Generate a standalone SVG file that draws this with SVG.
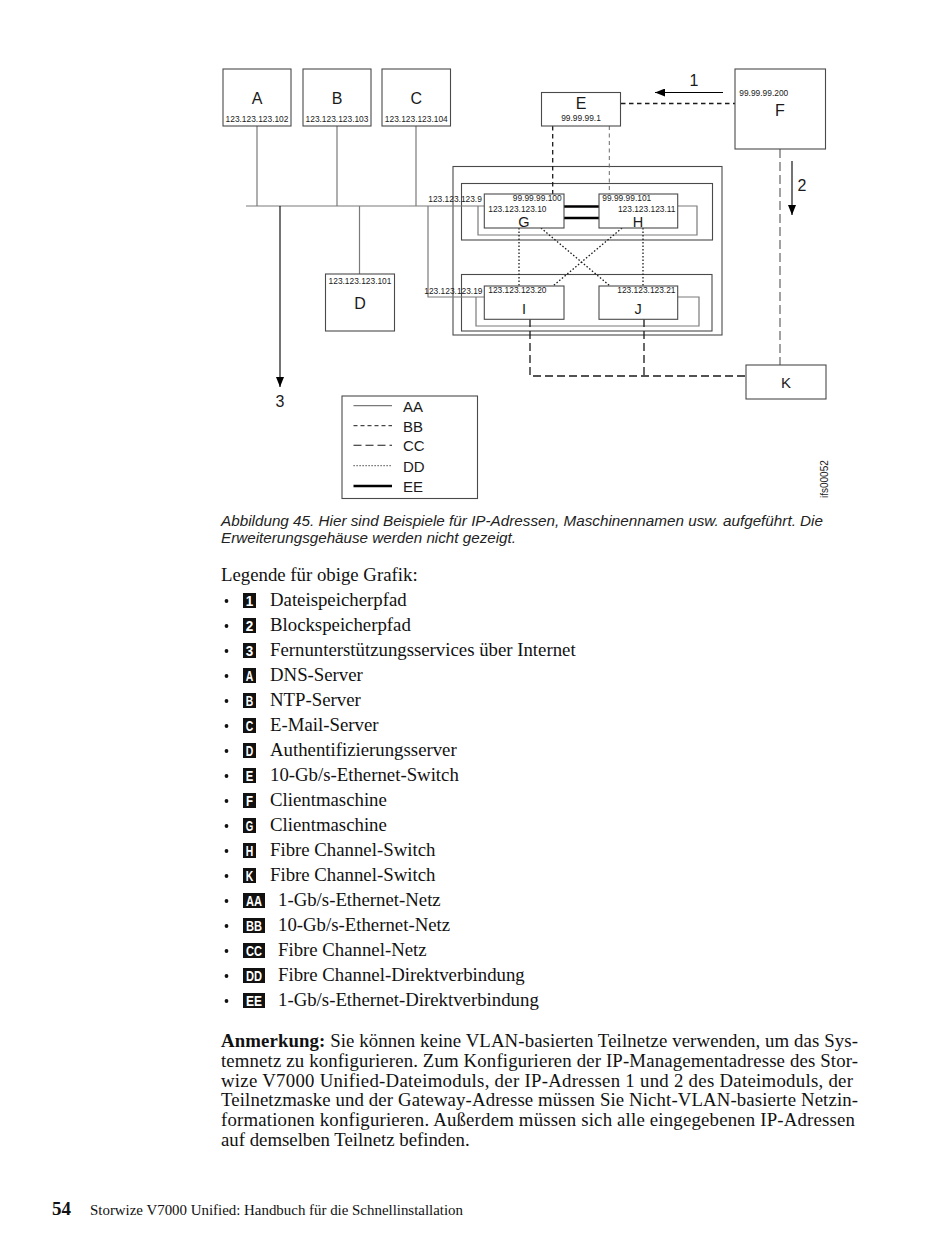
<svg xmlns="http://www.w3.org/2000/svg" width="950" height="1260" viewBox="0 0 950 1260">
<style>
.box{fill:#fff;stroke:#4a4a4a;stroke-width:1.1}
.frame{fill:none;stroke:#4a4a4a;stroke-width:1.1}
.aa{fill:none;stroke:#7a7a7a;stroke-width:1.2}
.bb{fill:none;stroke:#1a1a1a;stroke-width:1.3;stroke-dasharray:4.5 3.5}
.bbl{fill:none;stroke:#6a6a6a;stroke-width:1;stroke-dasharray:4 3.5}
.cc{fill:none;stroke:#1a1a1a;stroke-width:1.3;stroke-dasharray:8 4}
.ccl{fill:none;stroke:#8a8a8a;stroke-width:1.6;stroke-dasharray:9 4}
.dd{fill:none;stroke:#1a1a1a;stroke-width:1.3;stroke-dasharray:1.5 2}
.ee{fill:none;stroke:#000;stroke-width:2.5}
.arr{fill:none;stroke:#000;stroke-width:1.1}
.lbl{font-family:"Liberation Sans",Arial,sans-serif;fill:#1a1a1a}
.ip{font-size:8.4px}
.big{font-size:16px}
.mid{text-anchor:middle}
.end{text-anchor:end}
.serif{font-family:"Liberation Serif","Times New Roman",serif;fill:#111;font-size:18.8px}
.badge{fill:#111}
.bt{font-family:"Liberation Sans",Arial,sans-serif;font-weight:bold;font-size:14.5px;fill:#fff;text-anchor:middle}
.cap{font-family:"Liberation Sans",Arial,sans-serif;font-style:italic;font-size:15px;fill:#222}
</style>
<defs>
<marker id="ah" markerUnits="userSpaceOnUse" markerWidth="10" markerHeight="8" refX="10" refY="4" orient="auto">
<path d="M0,0 L10,4 L0,8 z" fill="#000"/>
</marker>
</defs>
<rect width="950" height="1260" fill="#fff"/>

<g id="enclosures">
<rect class="frame" x="453" y="166.5" width="269" height="168.5"/>
<rect class="frame" x="461.5" y="183.5" width="251" height="56.5"/>
<rect class="frame" x="461.5" y="274.5" width="250.5" height="56.5"/>
</g>

<g id="connectors">
<path class="aa" d="M246,206 H484"/>
<path class="aa" d="M257,126 V206 M337,126 V206 M416,126 V206"/>
<path class="aa" d="M359.5,206 V274"/>
<path class="aa" d="M428,206 V297 H484"/>
<path class="aa" d="M478,206 V235 H697 V206 H678"/>
<path class="aa" d="M476,297 V326 H699 V297 H678"/>
<path class="arr" d="M280,206 V387" marker-end="url(#ah)"/>
<path class="bb" d="M621,103.5 H735"/>
<path class="bb" d="M552.7,126 V194"/>
<path class="bbl" d="M609.3,126 V194"/>
<path class="ccl" d="M780,149 V365"/>
<path class="cc" d="M530,319 V376 H746"/>
<path class="cc" d="M644,319 V376"/>
<path class="dd" d="M519,228 V286 M643,228 V286 M541,228 L610,286 M622,228 L553,286"/>
<path class="ee" d="M564,206.5 H599 M564,218 H599"/>
<path class="arr" d="M723,92.5 H655" marker-end="url(#ah)"/>
<path class="arr" d="M792,161 V215" marker-end="url(#ah)"/>
<text class="lbl big" x="694" y="86" text-anchor="middle">1</text>
<text class="lbl big" x="802" y="191" text-anchor="middle">2</text>
<text class="lbl big" x="280" y="407" text-anchor="middle">3</text>
<text class="lbl ip" x="428.3" y="201.5">123.123.123.9</text>
<text class="lbl ip" x="424.3" y="293.5">123.123.123.19</text>
</g>

<g id="node-A">
<rect class="box" x="223" y="69" width="68" height="57"/>
<text class="lbl big mid" x="257" y="104">A</text>
<text class="lbl ip mid" x="257" y="122.3">123.123.123.102</text>
</g>
<g id="node-B">
<rect class="box" x="303" y="69" width="68" height="57"/>
<text class="lbl big mid" x="337" y="104">B</text>
<text class="lbl ip mid" x="337" y="122.3">123.123.123.103</text>
</g>
<g id="node-C">
<rect class="box" x="382" y="69" width="68.5" height="57"/>
<text class="lbl big mid" x="416.3" y="104">C</text>
<text class="lbl ip mid" x="416.3" y="122.3">123.123.123.104</text>
</g>
<g id="node-D">
<rect class="box" x="325.5" y="274" width="69" height="57"/>
<text class="lbl ip mid" x="360" y="283.5">123.123.123.101</text>
<text class="lbl big mid" x="360" y="308.5">D</text>
</g>
<g id="node-E">
<rect class="box" x="541.5" y="92.5" width="79" height="33.5"/>
<text class="lbl big mid" x="581" y="109">E</text>
<text class="lbl ip mid" x="581" y="121.3">99.99.99.1</text>
</g>
<g id="node-F">
<rect class="box" x="735" y="69" width="90.5" height="80"/>
<text class="lbl ip" x="739.3" y="96">99.99.99.200</text>
<text class="lbl big mid" x="780" y="116">F</text>
</g>
<g id="node-G">
<rect class="box" x="484.3" y="194" width="79.7" height="34"/>
<text class="lbl ip end" x="561.7" y="201">99.99.99.100</text>
<text class="lbl ip" x="488.3" y="211.7">123.123.123.10</text>
<text class="lbl mid" x="524" y="226.8" font-size="14.5">G</text>
</g>
<g id="node-H">
<rect class="box" x="599" y="194" width="78.7" height="34"/>
<text class="lbl ip" x="602.3" y="201">99.99.99.101</text>
<text class="lbl ip end" x="675.5" y="211.7">123.123.123.11</text>
<text class="lbl mid" x="638" y="226.8" font-size="14.5">H</text>
</g>
<g id="node-I">
<rect class="box" x="484.3" y="286" width="79.7" height="33.3"/>
<text class="lbl ip" x="488.3" y="293.3">123.123.123.20</text>
<text class="lbl mid" x="524" y="314" font-size="14.5">I</text>
</g>
<g id="node-J">
<rect class="box" x="599" y="286" width="78.7" height="33.3"/>
<text class="lbl ip end" x="675.5" y="293.3">123.123.123.21</text>
<text class="lbl mid" x="638" y="314" font-size="14.5">J</text>
</g>
<g id="node-K">
<rect class="box" x="746" y="365" width="80" height="34"/>
<text class="lbl mid" x="786" y="387.5" font-size="15">K</text>
</g>

<g id="legend">
<rect class="frame" x="342" y="396" width="135.5" height="102.5"/>
<path class="aa" d="M353.5,405.7 H392"/>
<path class="bb" d="M353.5,425.7 H392" style="stroke-width:1;stroke-dasharray:4 3"/>
<path class="cc" d="M353.5,445.2 H392" style="stroke-width:1.1"/>
<path class="dd" d="M353.5,465.7 H392" style="stroke-width:1;stroke-dasharray:1.2 1.8"/>
<path class="ee" d="M353.5,486 H392"/>
<text class="lbl" x="403" y="411.5" font-size="15">AA</text>
<text class="lbl" x="403" y="431.5" font-size="15">BB</text>
<text class="lbl" x="403" y="451" font-size="15">CC</text>
<text class="lbl" x="403" y="471.5" font-size="15">DD</text>
<text class="lbl" x="403" y="492" font-size="15">EE</text>
</g>

<text class="lbl" transform="translate(828,498) rotate(-90)" font-size="10">ifs00052</text>

<g id="caption">
<text class="cap" x="221" y="526" textLength="602" lengthAdjust="spacingAndGlyphs">Abbildung 45. Hier sind Beispiele für IP-Adressen, Maschinennamen usw. aufgeführt. Die</text>
<text class="cap" x="221" y="543" textLength="295" lengthAdjust="spacingAndGlyphs">Erweiterungsgehäuse werden nicht gezeigt.</text>
</g>

<g id="key-list">
<text class="serif" x="221" y="581">Legende für obige Grafik:</text>
<g fill="#111">
<circle cx="226.5" cy="601" r="1.9"/><circle cx="226.5" cy="626" r="1.9"/><circle cx="226.5" cy="651" r="1.9"/><circle cx="226.5" cy="676" r="1.9"/><circle cx="226.5" cy="701" r="1.9"/><circle cx="226.5" cy="726" r="1.9"/><circle cx="226.5" cy="751" r="1.9"/><circle cx="226.5" cy="776" r="1.9"/><circle cx="226.5" cy="801" r="1.9"/><circle cx="226.5" cy="826" r="1.9"/><circle cx="226.5" cy="851" r="1.9"/><circle cx="226.5" cy="876" r="1.9"/><circle cx="226.5" cy="901" r="1.9"/><circle cx="226.5" cy="926" r="1.9"/><circle cx="226.5" cy="951" r="1.9"/><circle cx="226.5" cy="976" r="1.9"/><circle cx="226.5" cy="1001" r="1.9"/>
</g>
<g class="badge">
<rect x="243" y="593" width="13" height="15"/><rect x="243" y="618" width="13" height="15"/><rect x="243" y="643" width="13" height="15"/><rect x="243" y="668" width="13" height="15"/><rect x="243" y="693" width="13" height="15"/><rect x="243" y="718" width="13" height="15"/><rect x="243" y="743" width="13" height="15"/><rect x="243" y="768" width="13" height="15"/><rect x="243" y="793" width="13" height="15"/><rect x="243" y="818" width="13" height="15"/><rect x="243" y="843" width="13" height="15"/><rect x="243" y="868" width="13" height="15"/>
<rect x="243" y="893" width="22" height="15"/><rect x="243" y="918" width="22" height="15"/><rect x="243" y="943" width="22" height="15"/><rect x="243" y="968" width="22" height="15"/><rect x="243" y="993" width="22" height="15"/>
</g>
<g class="bt">
<text x="249.5" y="605.8" textLength="7.5" lengthAdjust="spacingAndGlyphs">1</text>
<text x="249.5" y="630.8" textLength="7.5" lengthAdjust="spacingAndGlyphs">2</text>
<text x="249.5" y="655.8" textLength="7.5" lengthAdjust="spacingAndGlyphs">3</text>
<text x="249.5" y="680.8" textLength="7.5" lengthAdjust="spacingAndGlyphs">A</text>
<text x="249.5" y="705.8" textLength="7.5" lengthAdjust="spacingAndGlyphs">B</text>
<text x="249.5" y="730.8" textLength="7.5" lengthAdjust="spacingAndGlyphs">C</text>
<text x="249.5" y="755.8" textLength="7.5" lengthAdjust="spacingAndGlyphs">D</text>
<text x="249.5" y="780.8" textLength="7.5" lengthAdjust="spacingAndGlyphs">E</text>
<text x="249.5" y="805.8" textLength="7" lengthAdjust="spacingAndGlyphs">F</text>
<text x="249.5" y="830.8" textLength="7.5" lengthAdjust="spacingAndGlyphs">G</text>
<text x="249.5" y="855.8" textLength="7.5" lengthAdjust="spacingAndGlyphs">H</text>
<text x="249.5" y="880.8" textLength="7.5" lengthAdjust="spacingAndGlyphs">K</text>
<text x="254" y="905.8" textLength="16" lengthAdjust="spacingAndGlyphs">AA</text>
<text x="254" y="930.8" textLength="16" lengthAdjust="spacingAndGlyphs">BB</text>
<text x="254" y="955.8" textLength="16" lengthAdjust="spacingAndGlyphs">CC</text>
<text x="254" y="980.8" textLength="16" lengthAdjust="spacingAndGlyphs">DD</text>
<text x="254" y="1005.8" textLength="16" lengthAdjust="spacingAndGlyphs">EE</text>
</g>
<text class="serif" x="270" y="606">Dateispeicherpfad</text>
<text class="serif" x="270" y="631">Blockspeicherpfad</text>
<text class="serif" x="270" y="656">Fernunterstützungsservices über Internet</text>
<text class="serif" x="270" y="681">DNS-Server</text>
<text class="serif" x="270" y="706">NTP-Server</text>
<text class="serif" x="270" y="731">E-Mail-Server</text>
<text class="serif" x="270" y="756">Authentifizierungsserver</text>
<text class="serif" x="270" y="781">10-Gb/s-Ethernet-Switch</text>
<text class="serif" x="270" y="806">Clientmaschine</text>
<text class="serif" x="270" y="831">Clientmaschine</text>
<text class="serif" x="270" y="856">Fibre Channel-Switch</text>
<text class="serif" x="270" y="881">Fibre Channel-Switch</text>
<text class="serif" x="278" y="906">1-Gb/s-Ethernet-Netz</text>
<text class="serif" x="278" y="931">10-Gb/s-Ethernet-Netz</text>
<text class="serif" x="278" y="956">Fibre Channel-Netz</text>
<text class="serif" x="278" y="981">Fibre Channel-Direktverbindung</text>
<text class="serif" x="278" y="1006">1-Gb/s-Ethernet-Direktverbindung</text>
</g>

<g id="note">
<text class="serif" x="221" y="1047" textLength="637" lengthAdjust="spacing"><tspan font-weight="bold">Anmerkung:</tspan> Sie können keine VLAN-basierten Teilnetze verwenden, um das Sys-</text>
<text class="serif" x="221" y="1066.8" textLength="637" lengthAdjust="spacing">temnetz zu konfigurieren. Zum Konfigurieren der IP-Managementadresse des Stor-</text>
<text class="serif" x="221" y="1086.6" textLength="632" lengthAdjust="spacing">wize V7000 Unified-Dateimoduls, der IP-Adressen 1 und 2 des Dateimoduls, der</text>
<text class="serif" x="221" y="1106.4" textLength="637" lengthAdjust="spacing">Teilnetzmaske und der Gateway-Adresse müssen Sie Nicht-VLAN-basierte Netzin-</text>
<text class="serif" x="221" y="1126.2" textLength="634" lengthAdjust="spacing">formationen konfigurieren. Außerdem müssen sich alle eingegebenen IP-Adressen</text>
<text class="serif" x="221" y="1146">auf demselben Teilnetz befinden.</text>
</g>

<g id="footer">
<text x="52" y="1215" font-family="Liberation Serif, Times New Roman, serif" font-weight="bold" font-size="19" fill="#111">54</text>
<text x="90" y="1215" font-family="Liberation Serif, Times New Roman, serif" font-size="14" fill="#111" textLength="373" lengthAdjust="spacingAndGlyphs">Storwize V7000 Unified: Handbuch für die Schnellinstallation</text>
</g>
</svg>
